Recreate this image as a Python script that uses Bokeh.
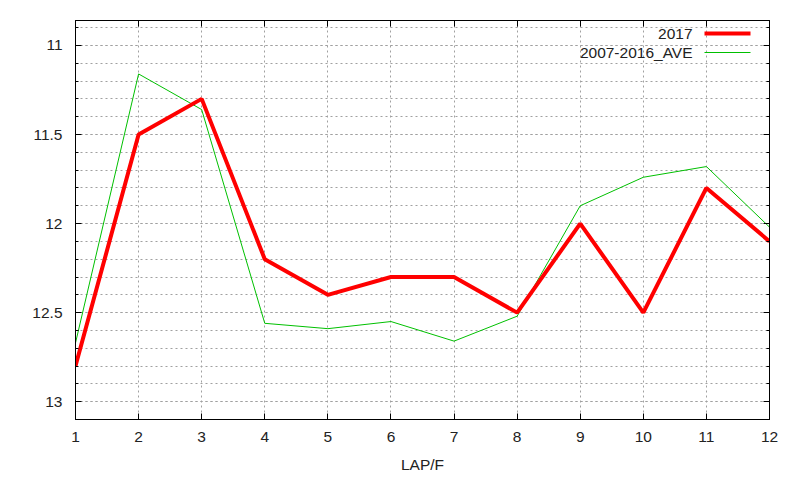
import numpy as np
from bokeh.plotting import figure
from bokeh.models import (Range1d, FixedTicker, LinearAxis, Label, BoxAnnotation,
                          ColumnDataSource, CustomLabelingPolicy)
from bokeh.embed import file_html
from bokeh.resources import INLINE

laps = [1, 2, 3, 4, 5, 6, 7, 8, 9, 10, 11, 12]
y2017 = [12.8, 11.5, 11.3, 12.2, 12.4, 12.3, 12.3, 12.5, 12.0, 12.5, 11.8, 12.1]
yave = [12.67, 11.16, 11.36, 12.56, 12.59, 12.55, 12.66, 12.52, 11.90, 11.74, 11.68, 12.02]
series_names = ["2017", "2007-2016_AVE"]
y_major = [11.0, 11.5, 12.0, 12.5, 13.0]
y_tick_labels = ["11", "11.5", "12", "12.5", "13"]
x_label = "LAP/F"

FONT = "Liberation Sans"
FS = "15.5px"
GRID = "#a0a0a0"

p = figure(frame_width=694, frame_height=399, output_backend="svg",
           toolbar_location=None,
           x_range=Range1d(1, 12), y_range=Range1d(13.1, 10.86),
           min_border_left=75, min_border_right=23, min_border_top=20,
           min_border_bottom=53)
p.background_fill_color = "white"
p.border_fill_color = "white"
p.outline_line_color = "black"
p.outline_line_width = 1

yminor = list(np.round(np.arange(10.9, 13.05, 0.1), 1))
yt = FixedTicker(ticks=y_major, minor_ticks=yminor)
xt = FixedTicker(ticks=laps, minor_ticks=[])

def style_axis(ax, labels=True):
    ax.axis_line_color = "black"
    ax.major_tick_in = 6
    ax.major_tick_out = 0
    ax.minor_tick_in = 3
    ax.minor_tick_out = 0
    ax.major_tick_line_color = "black"
    ax.minor_tick_line_color = "black"
    ax.major_label_text_font = FONT
    ax.major_label_text_color = "#222222"
    ax.major_label_text_font_size = FS
    if not labels:
        ax.major_label_policy = CustomLabelingPolicy(code="return new Set()")
        ax.major_label_standoff = 0

p.yaxis.ticker = yt
p.yaxis.major_label_overrides = {v: s for v, s in zip(y_major, y_tick_labels)}
style_axis(p.yaxis[0])
p.yaxis.major_label_standoff = 13

p.xaxis.ticker = xt
style_axis(p.xaxis[0])
p.xaxis.major_label_standoff = 12
p.xaxis.axis_label = x_label
p.xaxis.axis_label_text_font = FONT
p.xaxis.axis_label_text_font_size = FS
p.xaxis.axis_label_text_font_style = "normal"
p.xaxis.axis_label_text_color = "#222222"
p.xaxis.axis_label_standoff = 11

ra = LinearAxis(ticker=yt)
style_axis(ra, labels=False)
p.add_layout(ra, "right")
ta = LinearAxis(ticker=xt)
style_axis(ta, labels=False)
p.add_layout(ta, "above")

p.xgrid.ticker = xt
p.ygrid.ticker = yt
for g in (p.xgrid, p.ygrid):
    g.grid_line_color = GRID
    g.grid_line_dash = "2 3"
    g.grid_line_width = 1
p.ygrid.minor_grid_line_color = GRID
p.ygrid.minor_grid_line_dash = "2 3"

src = ColumnDataSource(dict(x=laps, a=y2017, b=yave))
p.line("x", "b", source=src, line_color="#00c000", line_width=1)
p.line("x", "a", source=src, line_color="#ff0000", line_width=4)

# legend (text on the left, sample on the right, as in gnuplot)
for i, (name, col, lw) in enumerate(zip(series_names, ["#ff0000", "#00c000"], [4, 1])):
    yy = 386 - 19 * i
    p.add_layout(Label(x=617, y=yy, x_units="screen", y_units="screen", text=name,
                       text_align="right", text_baseline="middle",
                       text_font=FONT, text_font_size=FS, text_color="#222222"))
    p.add_layout(BoxAnnotation(left=629, right=675, bottom=yy - lw / 2, top=yy + lw / 2,
                               left_units="screen", right_units="screen",
                               bottom_units="screen", top_units="screen",
                               fill_color=col, fill_alpha=1, line_color=None))

open("out.html", "w").write(file_html(p, INLINE))
